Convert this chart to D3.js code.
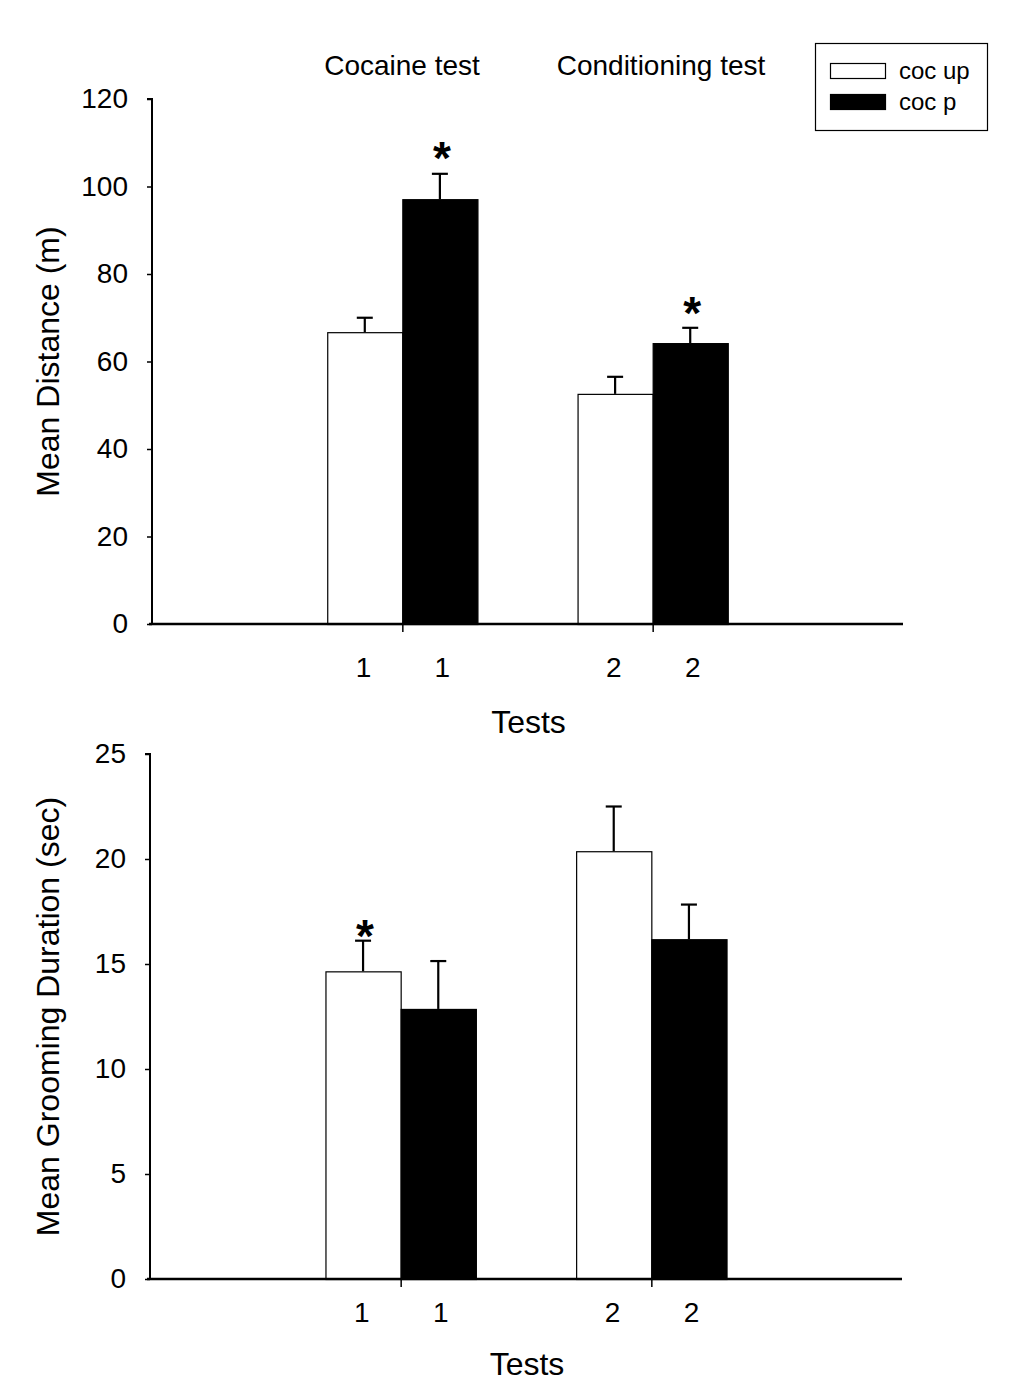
<!DOCTYPE html>
<html><head><meta charset="utf-8">
<script src="https://cdn.jsdelivr.net/npm/d3@7"></script>
<style>
html,body{margin:0;padding:0;background:#fff;}
text{font-family:"Liberation Sans",Arial,sans-serif;fill:#000;}
</style>
</head><body>
<svg id="chart" width="1017" height="1400"></svg>
<script>
// ---- data ----
const groups = ["1", "2"];
const seriesNames = ["coc up", "coc p"];
const seriesFill = ["#fff", "#000"];
const groupTitles = ["Cocaine test", "Conditioning test"];

// Panel A: Mean Distance (m)
const distUp = [66.7, 52.6];
const distUpSE = [3.3, 3.9];
const distP = [97.1, 64.2];
const distPSE = [5.8, 3.5];
const distTicks = [0, 20, 40, 60, 80, 100, 120];
const distStars = [[1, 108.8], [3, 73.4]]; // [bar index, y value]

// Panel B: Mean Grooming Duration (sec)
const groomUp = [14.65, 20.37];
const groomUpSE = [1.46, 2.13];
const groomP = [12.86, 16.18];
const groomPSE = [2.28, 1.65];
const groomTicks = [0, 5, 10, 15, 20, 25];
const groomStars = [[0, 16.8]];

const svg = d3.select("#chart");

function panel(cfg) {
  const x = d3.scaleLinear().domain([0, 3]).range([cfg.x0, cfg.x1]);
  const y = d3.scaleLinear().domain([0, cfg.max]).range([cfg.y0, cfg.y1]);
  const bw = 0.3; // bar width in group units
  const g = svg.append("g");

  const bars = [];
  groups.forEach((gr, gi) => {
    bars.push({g: gr, s: 0, v: cfg.up[gi], e: cfg.upSE[gi], xl: gi + 1 - bw, xr: gi + 1, lo: -0.155});
    bars.push({g: gr, s: 1, v: cfg.p[gi], e: cfg.pSE[gi], xl: gi + 1, xr: gi + 1 + bw, lo: 0.16});
  });

  // error bars (upper only)
  bars.forEach(b => {
    const cx = (x(b.xl) + x(b.xr)) / 2;
    g.append("line").attr("x1", cx).attr("x2", cx)
      .attr("y1", y(b.v)).attr("y2", y(b.v + b.e))
      .attr("stroke", "#000").attr("stroke-width", 2.2);
    g.append("line").attr("x1", cx - 8).attr("x2", cx + 8)
      .attr("y1", y(b.v + b.e)).attr("y2", y(b.v + b.e))
      .attr("stroke", "#000").attr("stroke-width", 2.2);
  });

  // bars
  g.selectAll("rect.bar").data(bars).enter().append("rect")
    .attr("class", "bar")
    .attr("x", d => x(d.xl) + 0.5)
    .attr("width", d => x(d.xr) - x(d.xl))
    .attr("y", d => y(d.v) + 0.5)
    .attr("height", d => y(0) - y(d.v))
    .attr("fill", d => seriesFill[d.s])
    .attr("stroke", "#000").attr("stroke-width", 1.2);

  // y axis
  const yAxis = d3.axisLeft(y).tickValues(cfg.ticks).tickSize(5).tickPadding(19).tickFormat(d3.format("d"));
  const ya = g.append("g").attr("transform", `translate(${cfg.x0},0)`).call(yAxis);
  ya.select(".domain").attr("stroke-width", 2).attr("d", `M-5,${cfg.y1}H0V${cfg.y0}`);
  ya.selectAll(".tick line").attr("stroke-width", 1.5);
  ya.selectAll(".tick text").attr("font-size", 28).attr("font-family", "Liberation Sans, Arial, sans-serif").attr("fill", "#000");

  // x axis
  const xa = g.append("g").attr("transform", `translate(0,${cfg.y0})`)
    .call(d3.axisBottom(x).tickValues([1, 2]).tickSize(8).tickFormat(""));
  xa.select(".domain").attr("stroke-width", 2.5).attr("d", `M${cfg.x0 - 3},0H${cfg.x1}`);
  xa.selectAll(".tick line").attr("stroke-width", 1.5);

  // x tick labels under each bar
  g.selectAll("text.xl").data(bars).enter().append("text")
    .attr("class", "xl")
    .attr("x", d => x((d.xl + d.xr) / 2 + (d.lo - ((d.xl + d.xr) / 2 - Math.round((d.xl + d.xr) / 2)))))
    .attr("y", cfg.y0 + cfg.tickOff)
    .attr("text-anchor", "middle").attr("font-size", 28)
    .text(d => d.g);

  // x title
  g.append("text").attr("x", (cfg.x0 + cfg.x1) / 2 + 1).attr("y", cfg.y0 + cfg.titleOff)
    .attr("text-anchor", "middle").attr("font-size", 32).text("Tests");

  // y title
  g.append("text").attr("transform", `translate(${cfg.ylx},${(cfg.y0 + cfg.y1) / 2}) rotate(-90)`)
    .attr("text-anchor", "middle").attr("dy", "0.35em").attr("font-size", 32).text(cfg.ylabel);

  // stars
  cfg.stars.forEach(([bi, v]) => {
    const b = bars[bi];
    const cx = (x(b.xl) + x(b.xr)) / 2 + 2;
    g.append("text").attr("x", cx).attr("y", y(v) + 26)
      .attr("text-anchor", "middle").attr("font-size", 46).attr("font-weight", "bold").text("*");
  });
  return {x, y, bars};
}

panel({x0: 152, x1: 903, y0: 624, y1: 99, max: 120,
  up: distUp, upSE: distUpSE, p: distP, pSE: distPSE, ticks: distTicks,
  stars: distStars, ylabel: "Mean Distance (m)", ylx: 48, tickOff: 53, titleOff: 109});

panel({x0: 150, x1: 902, y0: 1279, y1: 754, max: 25,
  up: groomUp, upSE: groomUpSE, p: groomP, pSE: groomPSE, ticks: groomTicks,
  stars: groomStars, ylabel: "Mean Grooming Duration (sec)", ylx: 48, tickOff: 43, titleOff: 96});

// group titles above top panel
groupTitles.forEach((t, i) => {
  svg.append("text").attr("x", i === 0 ? 402 : 661).attr("y", 75)
    .attr("text-anchor", "middle").attr("font-size", 28).text(t);
});

// legend
const lg = svg.append("g");
lg.append("rect").attr("x", 815.5).attr("y", 43.5).attr("width", 172).attr("height", 87)
  .attr("fill", "#fff").attr("stroke", "#000").attr("stroke-width", 1.2);
seriesNames.forEach((n, i) => {
  const yy = i === 0 ? 63 : 94;
  lg.append("rect").attr("x", 830.5).attr("y", yy + 0.5).attr("width", 55).attr("height", 15)
    .attr("fill", seriesFill[i]).attr("stroke", "#000").attr("stroke-width", 1.2);
  lg.append("text").attr("x", 899).attr("y", yy + 8).attr("dy", "0.35em")
    .attr("font-size", 24).text(n);
});
</script>
</body></html>
